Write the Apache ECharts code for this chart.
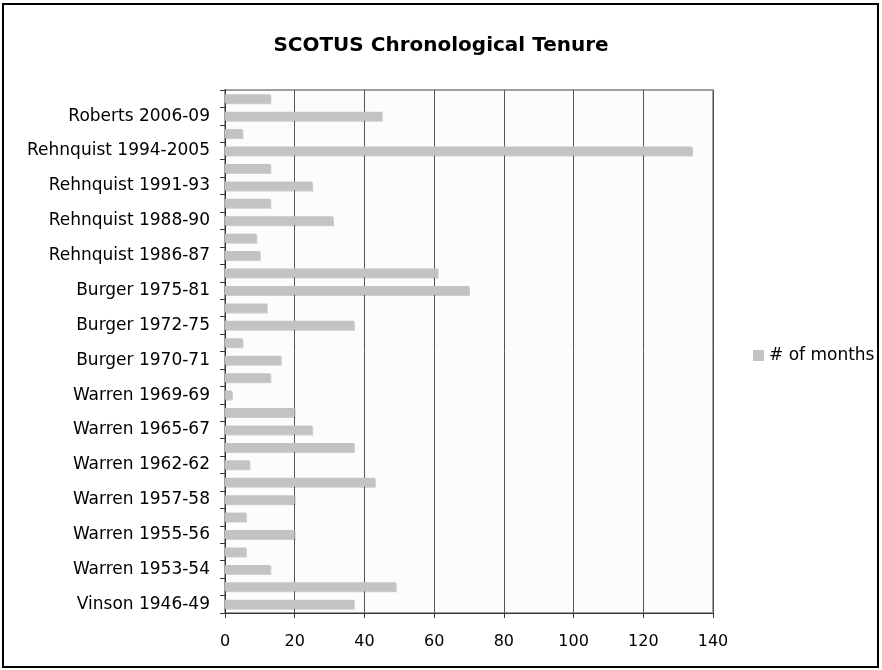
<!DOCTYPE html>
<html>
<head>
<meta charset="utf-8">
<script src="https://cdn.jsdelivr.net/npm/echarts@6/dist/echarts.min.js"></script>
<style>
  html, body { margin: 0; padding: 0; background: #fff; }
  #chart { width: 882px; height: 670px; }
</style>
</head>
<body>
<div id="chart"></div>
<script>
// categories from bottom to top; '' = bar whose label is skipped in the original
var categories = [
    'Vinson 1946-49', '',
    'Warren 1953-54', '',
    'Warren 1955-56', '',
    'Warren 1957-58', '',
    'Warren 1962-62', '',
    'Warren 1965-67', '',
    'Warren 1969-69', '',
    'Burger 1970-71', '',
    'Burger 1972-75', '',
    'Burger 1975-81', '',
    'Rehnquist 1986-87', '',
    'Rehnquist 1988-90', '',
    'Rehnquist 1991-93', '',
    'Rehnquist 1994-2005', '',
    'Roberts 2006-09', ''
];
var months = [37, 49, 13, 6, 20, 6, 20, 43, 7, 37, 25, 20, 2, 13, 16, 5, 37, 12, 70, 61,
              10, 9, 31, 13, 25, 13, 134, 5, 45, 13];
var seriesName = '# of months';
var titleText = 'SCOTUS Chronological Tenure';

var FONT = 'DejaVu Sans';

var chart = echarts.init(document.getElementById('chart'));

var option = {
    backgroundColor: '#ffffff',
    animation: false,
    title: {
        text: titleText,
        left: 'center',
        top: 31,
        textStyle: { fontFamily: FONT, fontSize: 20, fontWeight: 'bold', color: '#000' }
    },
    legend: {
        data: [seriesName],
        orient: 'vertical',
        left: 748,
        top: 342,
        icon: 'rect',
        itemWidth: 11,
        itemHeight: 11,
        itemGap: 6,
        textStyle: { fontFamily: FONT, fontSize: 17, color: '#000' }
    },
    grid: {
        left: 225,
        right: 169,
        top: 90,
        bottom: 57,
        show: true,
        backgroundColor: '#fcfcfc',
        borderColor: '#a0a0a0',
        borderWidth: 2
    },
    xAxis: {
        type: 'value',
        min: 0,
        max: 140,
        interval: 20,
        axisLine: { show: true, lineStyle: { color: '#333', width: 1 } },
        axisTick: { show: true, length: 5, lineStyle: { color: '#333' } },
        axisLabel: { fontFamily: FONT, fontSize: 16, color: '#000', margin: 21 },
        splitLine: { show: true, lineStyle: { color: '#555', width: 1 } }
    },
    yAxis: {
        type: 'category',
        data: categories,
        axisLine: { show: true, lineStyle: { color: '#333', width: 1 } },
        axisTick: { show: true, interval: 0, length: 5, lineStyle: { color: '#333' } },
        axisLabel: { interval: 0, fontFamily: FONT, fontSize: 17, color: '#000', margin: 15 },
        splitLine: { show: false }
    },
    series: [{
        name: seriesName,
        type: 'bar',
        data: months,
        barWidth: 9,
        itemStyle: {
            color: '#c3c3c3',
            shadowColor: 'rgba(0,0,0,0.18)',
            shadowOffsetX: 1,
            shadowOffsetY: 1
        }
    }],
    graphic: [{
        type: 'rect',
        shape: { x: 3, y: 4, width: 875, height: 663 },
        style: { fill: null, stroke: '#000', lineWidth: 2 },
        silent: true
    }]
};

chart.setOption(option);
</script>
</body>
</html>
